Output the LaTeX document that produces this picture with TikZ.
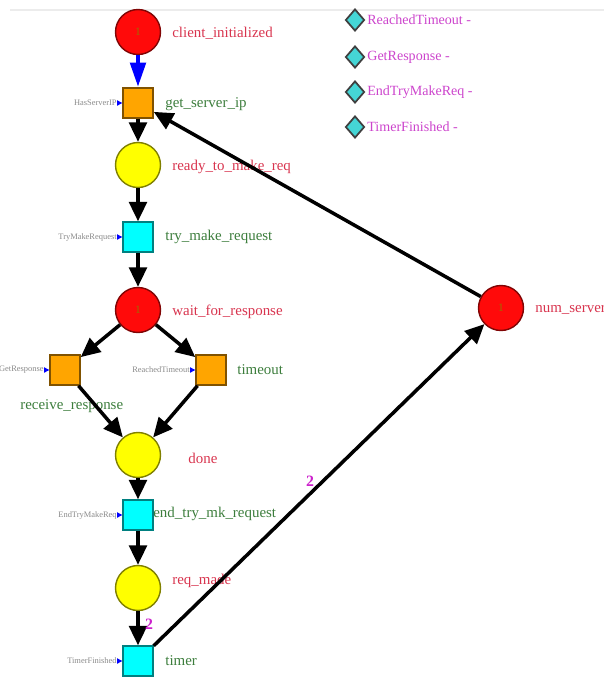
\documentclass[tikz,border=0pt]{standalone}
\usepackage{fontspec}
\setmainfont{Liberation Serif}
\usetikzlibrary{arrows.meta,shapes.geometric,positioning}

\definecolor{rojopn}{HTML}{FF0A0A}
\definecolor{amarillopn}{HTML}{FFFF00}
\definecolor{naranjapn}{HTML}{FFA500}
\definecolor{cianpn}{HTML}{00FFFF}
\definecolor{rombopn}{HTML}{45D6D6}
\definecolor{textorojo}{HTML}{D8344E}
\definecolor{textoverde}{HTML}{3C7D3C}
\definecolor{textomagenta}{HTML}{CC44CC}
\definecolor{pesopn}{HTML}{CC22CC}
\definecolor{fichapn}{HTML}{A06A00}
\definecolor{grisentrada}{HTML}{8A8A8A}

\tikzset{
    lugar/.style={circle, draw=#1!50!black, fill=#1, line width=0.8pt, minimum size=0.9cm, inner sep=0pt},
    trans/.style={rectangle, draw=#1!50!black, fill=#1, line width=0.8pt, minimum size=0.6cm, inner sep=0pt},
    ficha/.style={text=fichapn, font=\fontsize{6.5}{7}\selectfont, inner sep=0pt},
    nomlugar/.style={anchor=west, inner sep=0pt, text=textorojo, font=\fontsize{8.5}{10}\selectfont},
    nomtrans/.style={anchor=west, inner sep=0pt, text=textoverde, font=\fontsize{8.5}{10}\selectfont},
    entrada/.style={anchor=east, inner sep=0pt, text=grisentrada, font=\fontsize{4.8}{5}\selectfont},
    flechita/.style={blue, line width=0.6pt, -{Triangle[length=3pt,width=3pt]}},
    arco/.style={black, line width=2pt, -{Triangle[length=11pt,width=10pt]}},
    arcoazul/.style={blue, line width=2.8pt, -{Triangle[length=14pt,width=8.5pt]}},
    peso/.style={text=pesopn, font=\bfseries\fontsize{9}{10}\selectfont, inner sep=0pt},
    rombo/.style={diamond, draw=black!75, fill=rombopn, line width=1pt, minimum width=0.38cm, minimum height=0.44cm, inner sep=0pt},
    leyenda/.style={anchor=west, inner sep=0pt, text=textomagenta, font=\fontsize{8}{10}\selectfont}
}

\begin{document}
\begin{tikzpicture}[x=0.02cm, y=-0.02cm]
        \useasboundingbox (0,0) rectangle (604,680);
        \clip (0,0) rectangle (604,680);

        % Borde superior
        \draw[gray!15, line width=0.6pt] (10,10) -- (604,10);

        % Lugares
        \node[lugar=rojopn] (ci) at (138,32) {};
        \node[lugar=amarillopn] (rtm) at (138,165) {};
        \node[lugar=rojopn] (wfr) at (138,310) {};
        \node[lugar=amarillopn] (done) at (138,455) {};
        \node[lugar=amarillopn] (rm) at (138,588) {};
        \node[lugar=rojopn] (ns) at (501,308) {};

        % Marcas iniciales
        \node[ficha] (ci1) at (ci) {1};
        \node[ficha] (wfr1) at (wfr) {1};
        \node[ficha] (ns1) at (ns) {1};

        % Transiciones
        \node[trans=naranjapn] (gsi) at (138,103) {};
        \node[trans=cianpn] (tmr) at (138,237) {};
        \node[trans=naranjapn] (rr) at (65,370) {};
        \node[trans=naranjapn] (to) at (211,370) {};
        \node[trans=cianpn] (etmr) at (138,515) {};
        \node[trans=cianpn] (tim) at (138,661) {};

        % Nombres de lugares y transiciones
        \node[nomlugar] (ci-n) at (172,33) {client\_initialized};
        \node[nomtrans] (gsi-n) at (165,104) {get\_server\_ip};
        \node[nomlugar] (rtm-n) at (172,167) {ready\_to\_make\_req};
        \node[nomtrans] (tmr-n) at (165,237) {try\_make\_request};
        \node[nomlugar] (wfr-n) at (172,312) {wait\_for\_response};
        \node[nomtrans] (to-n) at (237,370) {timeout};
        \node[nomtrans] (rr-n) at (20,406) {receive\_response};
        \node[nomlugar] (done-n) at (188,458) {done};
        \node[nomtrans] (etmr-n) at (153,514) {end\_try\_mk\_request};
        \node[nomlugar] (rm-n) at (172,581) {req\_made};
        \node[nomtrans] (tim-n) at (165,661) {timer};
        \node[nomlugar] (ns-n) at (535,310) {num\_servers};

        % Entradas externas
        \node[entrada] (e-gsi) at (117,103) {HasServerIP};
        \node[entrada] (e-tmr) at (117,237) {TryMakeRequest};
        \node[entrada] (e-rr) at (44,370) {GetResponse};
        \node[entrada] (e-to) at (190,370) {ReachedTimeout};
        \node[entrada] (e-etmr) at (117,515) {EndTryMakeReq};
        \node[entrada] (e-tim) at (117,661) {TimerFinished};
        \draw[flechita] (e-gsi) -- (gsi);
        \draw[flechita] (e-tmr) -- (tmr);
        \draw[flechita] (e-rr) -- (rr);
        \draw[flechita] (e-to) -- (to);
        \draw[flechita] (e-etmr) -- (etmr);
        \draw[flechita] (e-tim) -- (tim);

        % Arcos
        \draw[arcoazul] (ci) -- (gsi);
        \draw[arco] (gsi) -- (rtm);
        \draw[arco] (rtm) -- (tmr);
        \draw[arco] (tmr) -- (wfr);
        \draw[arco] (wfr) -- (rr);
        \draw[arco] (wfr) -- (to);
        \draw[arco] (rr) -- (done);
        \draw[arco] (to) -- (done);
        \draw[arco] (done) -- (etmr);
        \draw[arco] (etmr) -- (rm);
        \draw[arco] (rm) -- (tim);
        \draw[arco] (tim) -- (ns);
        \draw[arco] (ns) -- (gsi);

        % Pesos de los arcos
        \node[peso] (p-rm) at (149,624) {2};
        \node[peso] (p-tim) at (310,481) {2};

        % Leyenda de eventos
        \node[rombo] (r1) at (355,20) {};
        \node[leyenda] (l1) at (367,20) {ReachedTimeout -};
        \node[rombo] (r2) at (355,57) {};
        \node[leyenda] (l2) at (367,57) {GetResponse -};
        \node[rombo] (r3) at (355,92) {};
        \node[leyenda] (l3) at (367,92) {EndTryMakeReq -};
        \node[rombo] (r4) at (355,127) {};
        \node[leyenda] (l4) at (367,127) {TimerFinished -};
    \end{tikzpicture}
\end{document}
